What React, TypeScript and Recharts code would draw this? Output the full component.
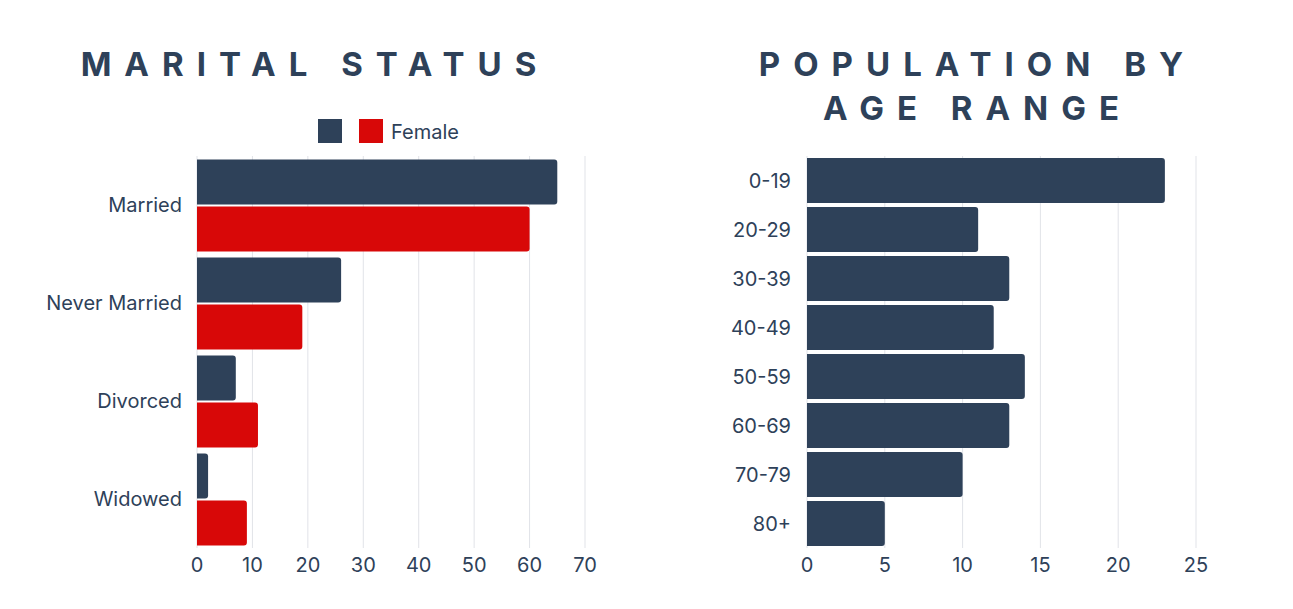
import { BarChart, Bar, XAxis, YAxis, CartesianGrid, Legend } from 'recharts';

const maritalCategories = ['Married', 'Never Married', 'Divorced', 'Widowed'];
const maleValues = [65, 26, 7, 2];
const femaleValues = [60, 19, 11, 9];
const maritalTicks = [0, 10, 20, 30, 40, 50, 60, 70];

const ageRanges = ['0-19', '20-29', '30-39', '40-49', '50-59', '60-69', '70-79', '80+'];
const ageValues = [23, 11, 13, 12, 14, 13, 10, 5];
const ageTicks = [0, 5, 10, 15, 20, 25];

const NAVY = '#2e4159';
const RED = '#d80808';
const FONT = 'Inter, "Open Sans", sans-serif';

const maritalData = maritalCategories.map((status, i) => ({
    status,
    male: maleValues[i],
    female: femaleValues[i],
}));
const ageData = ageRanges.map((range, i) => ({ range, value: ageValues[i] }));

const tickStyle = { fill: NAVY, fontSize: 20, fontFamily: FONT };

const titleStyle: React.CSSProperties = {
    position: 'absolute',
    fontFamily: FONT,
    fontWeight: 700,
    fontSize: 33,
    letterSpacing: 13,
    color: NAVY,
    textAlign: 'center',
    lineHeight: '44px',
};

// male series is shown in the legend only by its swatch
const renderLegend = (props: any) => {
    const items = (props.payload || []).slice().sort((a: any) => (a.dataKey === 'male' ? -1 : 1));
    return (
        <div style={{ display: 'flex', alignItems: 'center', fontFamily: FONT, fontSize: 20, color: NAVY }}>
            {items.map((item: any) => (
                <div key={item.dataKey} style={{ display: 'flex', alignItems: 'center', marginRight: 17 }}>
                    <span style={{ display: 'inline-block', width: 24, height: 24, background: item.color }} />
                    {item.dataKey === 'male' ? null : <span style={{ marginLeft: 8, marginTop: 2 }}>{item.value}</span>}
                </div>
            ))}
        </div>
    );
};

export default function App() {
    return (
        <div style={{ position: 'absolute', left: 0, top: 0, width: 1293, height: 609, background: '#fff' }}>
            <div style={{ ...titleStyle, left: 0, width: 630, top: 42 }}>MARITAL STATUS</div>
            <div style={{ ...titleStyle, left: 663, width: 629, top: 42 }}>
                POPULATION BY<br />AGE RANGE
            </div>

            <div style={{ position: 'absolute', left: 0, top: 0 }}>
                <BarChart
                    width={620}
                    height={600}
                    data={maritalData}
                    layout="vertical"
                    margin={{ top: 156, right: 35, bottom: 22, left: 17 }}
                    barCategoryGap={3.5}
                    barGap={2}
                >
                    <CartesianGrid horizontal={false} stroke="#e1e3e8" />
                    <XAxis
                        type="number"
                        domain={[0, 70]}
                        ticks={maritalTicks}
                        axisLine={false}
                        tickLine={false}
                        tickSize={0}
                        tickMargin={10}
                        height={30}
                        tick={tickStyle}
                    />
                    <YAxis
                        type="category"
                        dataKey="status"
                        width={180}
                        axisLine={false}
                        tickLine={false}
                        tickSize={0}
                        tickMargin={15}
                        tick={tickStyle}
                    />
                    <Legend
                        verticalAlign="middle"
                        align="center"
                        content={renderLegend}
                        wrapperStyle={{ top: 118, left: 318, width: 200, height: 24 }}
                    />
                    <Bar dataKey="male" name="Male" fill={NAVY} radius={[0, 3, 3, 0]} isAnimationActive={false} />
                    <Bar dataKey="female" name="Female" fill={RED} radius={[0, 3, 3, 0]} isAnimationActive={false} />
                </BarChart>
            </div>

            <div style={{ position: 'absolute', left: 630, top: 0 }}>
                <BarChart
                    width={620}
                    height={600}
                    data={ageData}
                    layout="vertical"
                    margin={{ top: 156, right: 54, bottom: 22, left: 17 }}
                    barCategoryGap={2}
                >
                    <CartesianGrid horizontal={false} stroke="#e1e3e8" />
                    <XAxis
                        type="number"
                        domain={[0, 25]}
                        ticks={ageTicks}
                        axisLine={false}
                        tickLine={false}
                        tickSize={0}
                        tickMargin={10}
                        height={30}
                        tick={tickStyle}
                    />
                    <YAxis
                        type="category"
                        dataKey="range"
                        width={160}
                        axisLine={false}
                        tickLine={false}
                        tickSize={0}
                        tickMargin={16}
                        tick={tickStyle}
                    />
                    <Bar dataKey="value" name="Population" fill={NAVY} radius={[0, 3, 3, 0]} isAnimationActive={false} />
                </BarChart>
            </div>
        </div>
    );
}
